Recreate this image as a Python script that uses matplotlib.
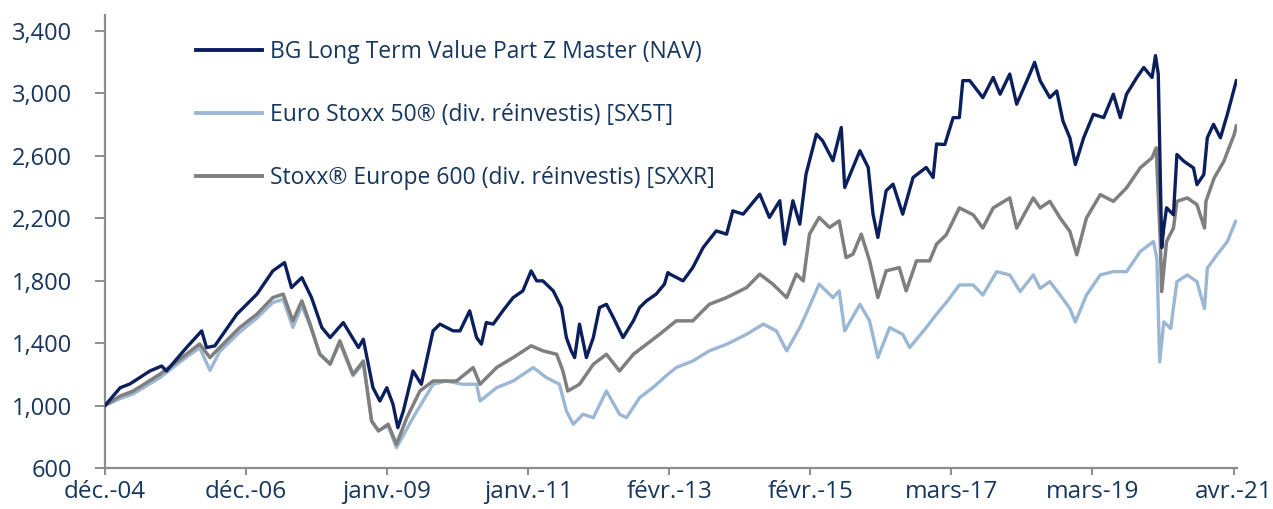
import matplotlib
matplotlib.use("Agg")
import matplotlib.pyplot as plt
from matplotlib.ticker import FuncFormatter

# ---------------- data (decimal years, index values) ----------------
nav_years = [2004.95, 2005.17, 2005.31, 2005.60, 2005.77, 2005.84, 2006.13, 2006.35, 2006.42, 2006.54,
             2006.86, 2007.15, 2007.38, 2007.55, 2007.65, 2007.80, 2007.94, 2008.09, 2008.21, 2008.40,
             2008.62, 2008.69, 2008.83, 2008.93, 2009.03, 2009.12, 2009.19, 2009.27, 2009.41, 2009.53,
             2009.70, 2009.80, 2009.99, 2010.09, 2010.23, 2010.33, 2010.40, 2010.47, 2010.57, 2010.71,
             2010.86, 2011.00, 2011.12, 2011.20, 2011.29, 2011.44, 2011.56, 2011.63, 2011.70, 2011.75,
             2011.82, 2011.92, 2012.02, 2012.11, 2012.21, 2012.31, 2012.45, 2012.60, 2012.69, 2012.79,
             2012.93, 2013.05, 2013.10, 2013.13, 2013.32, 2013.46, 2013.61, 2013.80, 2013.95, 2014.04,
             2014.19, 2014.43, 2014.57, 2014.72, 2014.79, 2014.91, 2015.01, 2015.10, 2015.25, 2015.34,
             2015.49, 2015.61, 2015.66, 2015.78, 2015.88, 2016.00, 2016.07, 2016.14, 2016.26, 2016.36,
             2016.50, 2016.65, 2016.84, 2016.94, 2016.99, 2017.11, 2017.23, 2017.32, 2017.37, 2017.47,
             2017.66, 2017.81, 2017.91, 2018.05, 2018.15, 2018.34, 2018.41, 2018.49, 2018.63, 2018.73,
             2018.82, 2018.92, 2019.00, 2019.12, 2019.26, 2019.41, 2019.55, 2019.65, 2019.74, 2019.89,
             2019.99, 2020.11, 2020.16, 2020.20, 2020.25, 2020.28, 2020.32, 2020.42, 2020.47, 2020.57,
             2020.71, 2020.76, 2020.86, 2020.91, 2021.00, 2021.10, 2021.20, 2021.29, 2021.33]
nav_values = [1000, 1114, 1138, 1221, 1253, 1221, 1371, 1478, 1371, 1382,
              1585, 1713, 1862, 1915, 1755, 1819, 1691, 1499, 1435, 1531,
              1371, 1424, 1114, 1029, 1114, 1008, 858, 965, 1221, 1136,
              1478, 1521, 1478, 1478, 1606, 1435, 1393, 1531, 1521, 1606,
              1691, 1734, 1862, 1798, 1798, 1734, 1627, 1435, 1350, 1307,
              1521, 1307, 1435, 1627, 1648, 1563, 1435, 1542, 1627, 1670,
              1713, 1777, 1851, 1841, 1798, 1883, 2011, 2118, 2097, 2246,
              2225, 2353, 2204, 2311, 2033, 2311, 2161, 2481, 2737, 2695,
              2567, 2780, 2396, 2524, 2631, 2524, 2225, 2076, 2375, 2417,
              2225, 2460, 2524, 2460, 2674, 2671, 2843, 2843, 3080, 3080,
              2971, 3100, 2993, 3122, 2929, 3122, 3197, 3079, 2971, 3014,
              2821, 2714, 2543, 2714, 2864, 2843, 2993, 2843, 2993, 3100,
              3164, 3100, 3240, 3122, 2011, 2138, 2266, 2221, 2607, 2564,
              2521, 2414, 2479, 2714, 2800, 2714, 2864, 3014, 3079]

sx5t_years = [2004.95, 2005.17, 2005.36, 2005.75, 2006.04, 2006.32, 2006.47, 2006.61, 2006.90, 2007.15,
              2007.38, 2007.53, 2007.67, 2007.80, 2007.92, 2008.06, 2008.21, 2008.35, 2008.54, 2008.69,
              2008.81, 2008.91, 2009.05, 2009.17, 2009.41, 2009.70, 2009.89, 2010.13, 2010.33, 2010.38,
              2010.62, 2010.86, 2011.15, 2011.34, 2011.53, 2011.63, 2011.73, 2011.87, 2012.02, 2012.21,
              2012.40, 2012.50, 2012.69, 2012.88, 2013.10, 2013.22, 2013.46, 2013.70, 2013.95, 2014.24,
              2014.48, 2014.67, 2014.82, 2015.01, 2015.10, 2015.29, 2015.49, 2015.58, 2015.66, 2015.88,
              2016.02, 2016.14, 2016.31, 2016.50, 2016.60, 2016.84, 2016.99, 2017.15, 2017.32, 2017.52,
              2017.66, 2017.86, 2018.05, 2018.20, 2018.39, 2018.49, 2018.63, 2018.78, 2018.92, 2019.00,
              2019.16, 2019.36, 2019.55, 2019.74, 2019.94, 2020.13, 2020.18, 2020.22, 2020.28, 2020.38,
              2020.47, 2020.62, 2020.76, 2020.87, 2020.91, 2021.05, 2021.20, 2021.32]
sx5t_values = [1000, 1045, 1075, 1180, 1280, 1370, 1225, 1345, 1470, 1560,
               1660, 1680, 1500, 1640, 1510, 1330, 1270, 1400, 1190, 1270,
               900, 840, 870, 730, 922, 1136, 1157, 1136, 1136, 1029,
               1114, 1157, 1243, 1179, 1136, 965, 880, 944, 922, 1093,
               944, 922, 1050, 1114, 1200, 1243, 1285, 1350, 1392, 1456,
               1521, 1478, 1350, 1499, 1585, 1777, 1691, 1734, 1478, 1648,
               1542, 1307, 1499, 1456, 1371, 1499, 1585, 1670, 1772, 1772,
               1707, 1857, 1836, 1729, 1836, 1750, 1793, 1707, 1621, 1535,
               1707, 1836, 1857, 1857, 1986, 2050, 1943, 1279, 1535, 1493,
               1793, 1836, 1793, 1621, 1879, 1965, 2050, 2179]

sxxr_years = [2004.95, 2005.17, 2005.36, 2005.75, 2006.04, 2006.32, 2006.47, 2006.61, 2006.90, 2007.15,
              2007.38, 2007.53, 2007.67, 2007.80, 2007.92, 2008.06, 2008.21, 2008.35, 2008.54, 2008.69,
              2008.81, 2008.91, 2009.05, 2009.17, 2009.32, 2009.51, 2009.70, 2010.04, 2010.28, 2010.38,
              2010.62, 2010.86, 2011.12, 2011.29, 2011.49, 2011.58, 2011.65, 2011.82, 2012.02, 2012.21,
              2012.40, 2012.60, 2012.79, 2012.98, 2013.22, 2013.46, 2013.70, 2013.95, 2014.24, 2014.43,
              2014.62, 2014.82, 2014.96, 2015.06, 2015.15, 2015.29, 2015.44, 2015.58, 2015.68, 2015.78,
              2015.90, 2016.02, 2016.14, 2016.26, 2016.45, 2016.55, 2016.70, 2016.89, 2016.99, 2017.13,
              2017.32, 2017.52, 2017.66, 2017.81, 2018.05, 2018.15, 2018.39, 2018.49, 2018.63, 2018.78,
              2018.92, 2019.02, 2019.16, 2019.36, 2019.55, 2019.74, 2019.94, 2020.11, 2020.17, 2020.23,
              2020.25, 2020.32, 2020.42, 2020.47, 2020.62, 2020.76, 2020.87, 2020.89, 2021.01, 2021.15,
              2021.30, 2021.33]
sxxr_values = [1000, 1061, 1093, 1202, 1298, 1394, 1307, 1371, 1499, 1585,
               1691, 1713, 1542, 1670, 1521, 1328, 1264, 1414, 1200, 1285,
               901, 837, 880, 752, 922, 1093, 1157, 1157, 1243, 1136,
               1243, 1307, 1382, 1350, 1328, 1221, 1093, 1136, 1264, 1328,
               1221, 1328, 1392, 1456, 1542, 1542, 1648, 1691, 1755, 1841,
               1777, 1691, 1841, 1798, 2097, 2204, 2140, 2182, 1947, 1969,
               2097, 1926, 1691, 1862, 1883, 1734, 1926, 1926, 2033, 2093,
               2265, 2221, 2136, 2265, 2329, 2136, 2329, 2265, 2307, 2200,
               2115, 1965, 2200, 2350, 2307, 2393, 2522, 2586, 2650, 2050,
               1729, 2050, 2136, 2307, 2329, 2286, 2136, 2307, 2457, 2564,
               2736, 2790]

series_labels = ["BG Long Term Value Part Z Master (NAV)",
                 "Euro Stoxx 50® (div. réinvestis) [SX5T]",
                 "Stoxx® Europe 600 (div. réinvestis) [SXXR]"]

x_tick_labels = ["déc.-04", "déc.-06", "janv.-09", "janv.-11", "févr.-13",
                 "févr.-15", "mars-17", "mars-19", "avr.-21"]
y_ticks = [600, 1000, 1400, 1800, 2200, 2600, 3000, 3400]

# ---------------- style ----------------
NAVY = "#0b1f5c"
LIGHT = "#9bb7d4"
GRAY = "#7f7f7f"
TEXT = "#17365d"
AXIS = "#8c8c8c"

plt.rcParams["font.family"] = ["Open Sans", "DejaVu Sans"]

fig = plt.figure(figsize=(12.73, 5.09), dpi=100)
ax = fig.add_axes([105 / 1273, 1 - 468 / 509, (1237 - 105) / 1273, (468 - 15) / 509])

l2, = ax.plot(sx5t_years, sx5t_values, color=LIGHT, lw=2.4, zorder=2, label=series_labels[1])
l3, = ax.plot(sxxr_years, sxxr_values, color=GRAY, lw=2.5, zorder=3, label=series_labels[2])
l1, = ax.plot(nav_years, nav_values, color=NAVY, lw=2.4, zorder=4, label=series_labels[0])

x0, x1 = 2004.95, 2021.34
step = (2021.29 - 2004.95) / 8
ax.set_xlim(x0, x1)
ax.set_ylim(600, 3500)
ax.set_xticks([x0 + i * step for i in range(9)])
ax.set_xticklabels(x_tick_labels)
ax.set_yticks(y_ticks)
ax.yaxis.set_major_formatter(FuncFormatter(lambda v, p: f"{int(v):,}"))

for s in ["top", "right"]:
    ax.spines[s].set_visible(False)
for s in ["left", "bottom"]:
    ax.spines[s].set_color(AXIS)
    ax.spines[s].set_linewidth(1.6)

ax.tick_params(axis="y", direction="out", length=7, width=1.4, color=AXIS,
               labelsize=17, labelcolor=TEXT, pad=17)
ax.tick_params(axis="x", direction="out", length=5, width=1.4, color=AXIS,
               labelsize=17.5, labelcolor=TEXT, pad=4)

leg = ax.legend(handles=[l1, l2, l3], loc="upper left", bbox_to_anchor=(0.08, 0.945),
                frameon=False, fontsize=16.5, handlelength=2.9, handletextpad=0.36,
                labelspacing=1.7, borderaxespad=0, borderpad=0)
for t in leg.get_texts():
    t.set_color(TEXT)
for h in leg.legend_handles:
    h.set_linewidth(2.8)

fig.savefig("out.png", dpi=100)
